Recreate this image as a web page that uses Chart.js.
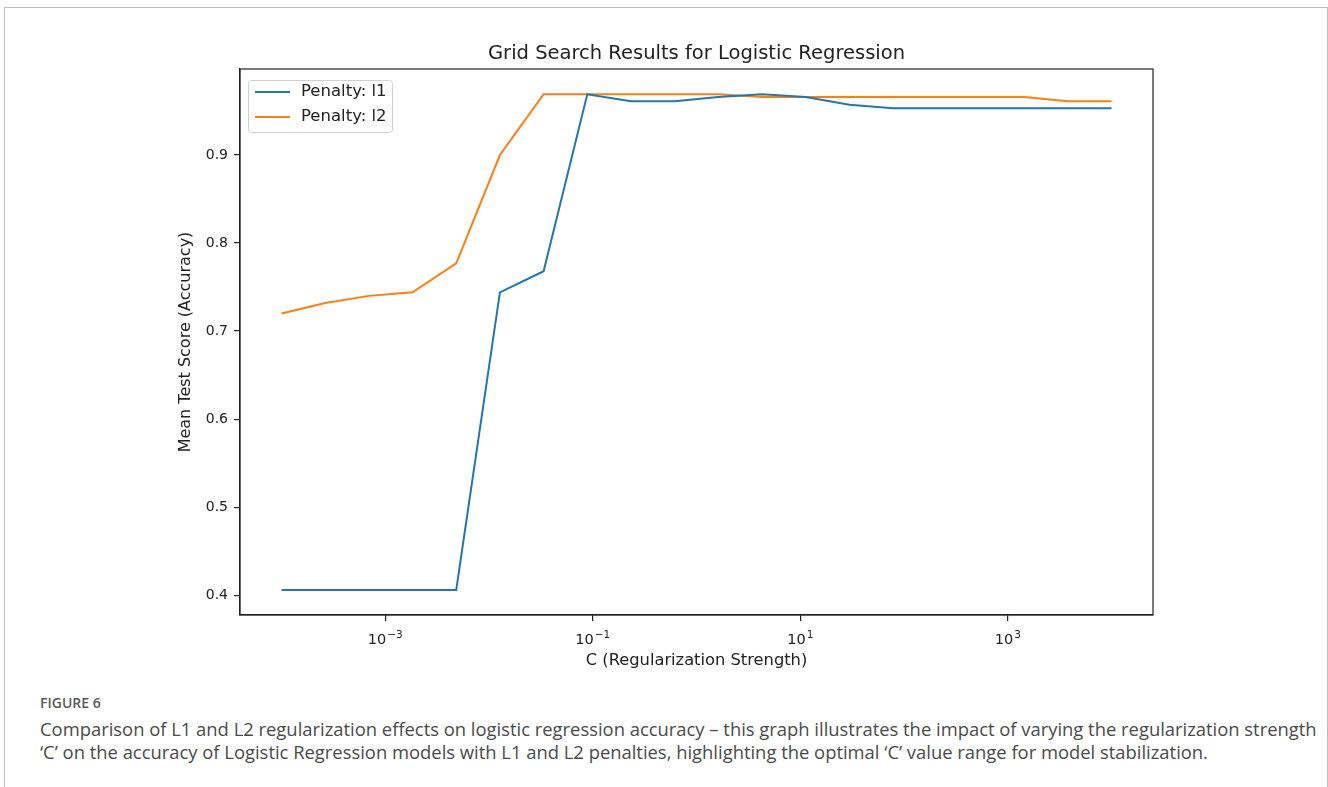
<!DOCTYPE html>
<html>
<head>
<meta charset="utf-8">
<script src="https://cdn.jsdelivr.net/npm/chart.js@4.4.1/dist/chart.umd.min.js"></script>
<style>
  body { margin: 0; background: #fff; }
  #frame { position: absolute; left: 4px; top: 7px; width: 1322px; height: 800px; border: 1px solid #bdbdbd; border-bottom: none; }
  #chart { position: absolute; left: 0; top: 0; }
  #caption { position: absolute; left: 40px; top: 693px; width: 1286px; font-family: "Open Sans", sans-serif; color: #4a4a4a; }
  .fig-label { font-size: 14px; font-weight: 600; color: #5a5a5a; line-height: 20px; }
  .fig-text { font-size: 18.4px; line-height: 23px; margin-top: 4px; }
</style>
</head>
<body>
<div id="frame"></div>
<canvas id="chart" width="1328" height="680"></canvas>
<div id="caption">
  <div class="fig-label">FIGURE 6</div>
  <div class="fig-text">Comparison of L1 and L2 regularization effects on logistic regression accuracy – this graph illustrates the impact of varying the regularization strength ‘C’ on the accuracy of Logistic Regression models with L1 and L2 penalties, highlighting the optimal ‘C’ value range for model stabilization.</div>
</div>
<script>
// C values tried in the grid search
const cValues = [0.0001, 0.0002637, 0.0006952, 0.001833, 0.004833, 0.01274, 0.0336, 0.08859, 0.2336, 0.6158,
  1.624, 4.281, 11.29, 29.76, 78.48, 206.9, 545.6, 1438, 3793, 10000];
const l1Scores = [0.406, 0.406, 0.406, 0.406, 0.406, 0.744, 0.768, 0.969, 0.961, 0.961,
  0.966, 0.969, 0.966, 0.957, 0.953, 0.953, 0.953, 0.953, 0.953, 0.953];
const l2Scores = [0.720, 0.732, 0.740, 0.744, 0.777, 0.900, 0.969, 0.969, 0.969, 0.969,
  0.969, 0.966, 0.966, 0.966, 0.966, 0.966, 0.966, 0.966, 0.961, 0.961];
const seriesLabels = ["Penalty: l1", "Penalty: l2"];
const seriesColors = ["#1f77b4", "#ff7f0e"];

// x ticks are 10^exp, drawn mathtext style
const xTickValues = [1e-3, 1e-1, 1e1, 1e3];
const xTickBase = "10";
const xTickExps = ["−3", "−1", "1", "3"];
const yTickValues = [0.4, 0.5, 0.6, 0.7, 0.8, 0.9];
const yTickLabels = ["0.4", "0.5", "0.6", "0.7", "0.8", "0.9"];
const chartTitle = "Grid Search Results for Logistic Regression";

const FONT = "DejaVu Sans";
const INK = "#222";

// matplotlib style full box around the axes + title
const frame = {
  id: "frame",
  afterDatasetsDraw(chart) {
    const { ctx, chartArea: a } = chart;
    ctx.save();
    ctx.strokeStyle = INK;
    ctx.lineWidth = 1.2;
    ctx.strokeRect(a.left, a.top, a.right - a.left, a.bottom - a.top);
    ctx.fillStyle = INK;
    ctx.font = "19.5px '" + FONT + "'";
    ctx.textAlign = "center";
    ctx.textBaseline = "middle";
    ctx.fillText(chartTitle, (a.left + a.right) / 2, 54);
    ctx.restore();
  }
};

// log tick labels with raised exponent
const xTickText = {
  id: "xTickText",
  afterDraw(chart) {
    const { ctx } = chart;
    const s = chart.scales.x;
    ctx.save();
    ctx.fillStyle = INK;
    ctx.textBaseline = "alphabetic";
    ctx.textAlign = "left";
    xTickValues.forEach((v, i) => {
      const px = s.getPixelForValue(v);
      ctx.font = "14.5px '" + FONT + "'";
      const wb = ctx.measureText(xTickBase).width;
      ctx.font = "10.5px '" + FONT + "'";
      const we = ctx.measureText(xTickExps[i]).width;
      const x0 = px - (wb + we + 1) / 2;
      ctx.font = "14.5px '" + FONT + "'";
      ctx.fillText(xTickBase, x0, s.top + 29);
      ctx.font = "10.5px '" + FONT + "'";
      ctx.fillText(xTickExps[i], x0 + wb + 1, s.top + 23);
    });
    ctx.restore();
  }
};

// legend box in the upper left corner
const legendBox = {
  id: "legendBox",
  afterDraw(chart) {
    const { ctx, chartArea: a } = chart;
    const x = a.left + 8, y = a.top + 11, w = 144, h = 52;
    ctx.save();
    ctx.fillStyle = "rgba(255,255,255,0.8)";
    ctx.strokeStyle = "#d0d0d0";
    ctx.lineWidth = 1;
    ctx.beginPath();
    ctx.roundRect(x + 0.5, y + 0.5, w, h, 3);
    ctx.fill();
    ctx.stroke();
    chart.data.datasets.forEach((ds, i) => {
      const ly = y + 12 + i * 25;
      ctx.strokeStyle = ds.borderColor;
      ctx.lineWidth = 2;
      ctx.beginPath();
      ctx.moveTo(x + 7, ly);
      ctx.lineTo(x + 42, ly);
      ctx.stroke();
      ctx.fillStyle = INK;
      ctx.font = "16.5px '" + FONT + "'";
      ctx.textBaseline = "middle";
      ctx.fillText(ds.label, x + 53, ly);
    });
    ctx.restore();
  }
};

new Chart(document.getElementById("chart"), {
  type: "line",
  data: {
    datasets: [
      {
        label: seriesLabels[0],
        data: cValues.map((c, i) => ({ x: c, y: l1Scores[i] })),
        borderColor: seriesColors[0],
        borderWidth: 2,
        pointRadius: 0,
        tension: 0
      },
      {
        label: seriesLabels[1],
        data: cValues.map((c, i) => ({ x: c, y: l2Scores[i] })),
        borderColor: seriesColors[1],
        borderWidth: 2,
        pointRadius: 0,
        tension: 0
      }
    ]
  },
  options: {
    responsive: false,
    animation: false,
    devicePixelRatio: 1,
    layout: { padding: { left: 0, right: 175, top: 69, bottom: 0 } },
    plugins: {
      legend: { display: false },
      tooltip: { enabled: false },
      title: { display: false }
    },
    scales: {
      x: {
        type: "logarithmic",
        min: Math.pow(10, -4.4),
        max: Math.pow(10, 4.4),
        afterBuildTicks: s => { s.ticks = xTickValues.map(v => ({ value: v })); },
        afterFit: s => { s.height = 65; },
        ticks: { display: false },
        grid: { display: true, drawOnChartArea: false, drawTicks: true, tickLength: 6, color: INK, lineWidth: 1.2 },
        border: { display: true, color: INK, width: 1.2 },
        title: {
          display: true,
          text: "C (Regularization Strength)",
          color: INK,
          font: { family: FONT, size: 16.3 },
          padding: { top: 0, bottom: 9.2 }
        }
      },
      y: {
        type: "linear",
        min: 0.3775,
        max: 0.9977,
        afterBuildTicks: s => { s.ticks = yTickValues.map(v => ({ value: v })); },
        afterFit: s => { s.width = 240; },
        ticks: {
          autoSkip: false,
          padding: 6,
          color: INK,
          font: { family: FONT, size: 14 },
          callback: (v, i) => yTickLabels[i]
        },
        grid: { display: true, drawOnChartArea: false, drawTicks: true, tickLength: 6, color: INK, lineWidth: 1.2 },
        border: { display: true, color: INK, width: 1.2 },
        title: {
          display: true,
          text: "Mean Test Score (Accuracy)",
          color: INK,
          font: { family: FONT, size: 16 },
          padding: { top: 176.4, bottom: 0 }
        }
      }
    }
  },
  plugins: [frame, xTickText, legendBox]
});
</script>
</body>
</html>
